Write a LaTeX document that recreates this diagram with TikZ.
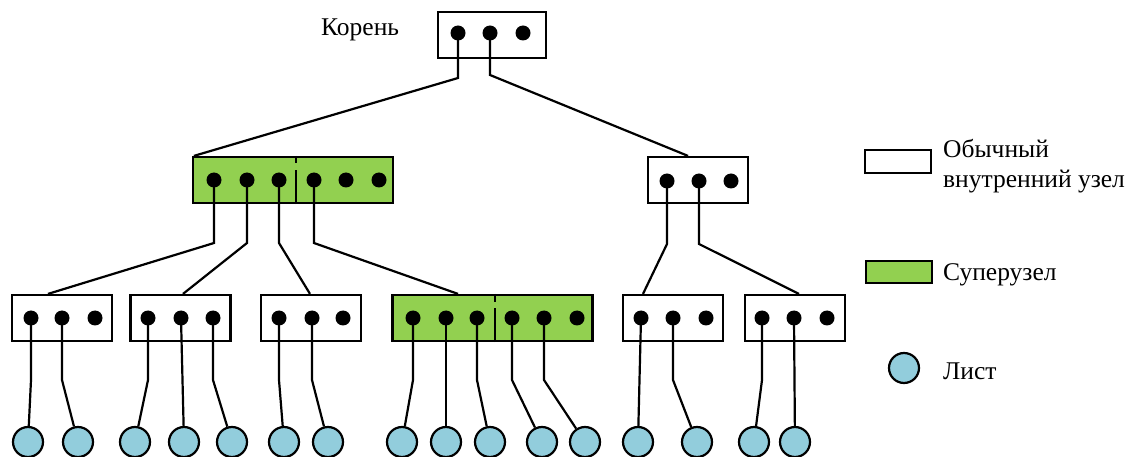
\documentclass[tikz,border=0pt]{standalone}
\usepackage{fontspec}
\setmainfont{Liberation Serif}
\definecolor{superg}{HTML}{92D050}
\definecolor{leafb}{HTML}{92CDDC}
\begin{document}
\begin{tikzpicture}[x=1pt,y=-1pt,
  box/.style={draw,line width=2.2pt,minimum height=46pt,inner sep=0pt,fill=white},
  sbox/.style={box,fill=superg,minimum width=200pt},
  nbox/.style={box,minimum width=100pt},
  dot/.style={circle,fill=black,minimum size=15pt,inner sep=0pt},
  leaf/.style={circle,draw,line width=2.2pt,fill=leafb,minimum size=30pt,inner sep=0pt},
  conn/.style={line width=2.2pt},
  lbl/.style={font=\fontsize{25.5}{30}\selectfont,inner sep=0pt,anchor=west,align=left}]
\useasboundingbox (0,0) rectangle (1128,457);
% boxes
\node[nbox,minimum width=108pt] (R) at (492,35) {};
\node[sbox] (S1) at (293,180) {};
\node[nbox] (N) at (698,180) {};
\node[nbox] (L1) at (62,318) {};
\node[nbox] (L2) at (180.5,318) {};
\node[nbox] (L3) at (311,318) {};
\node[sbox] (S2) at (492.5,318) {};
\node[nbox] (L5) at (673,318) {};
\node[nbox] (L6) at (795,318) {};
% dividers
\draw[conn] ([xshift=3pt]S1.north) -- ++(0,7);
\draw[conn] ([xshift=3pt]S1.south) -- ++(0,-34);
\draw[conn] ([xshift=2.5pt]S2.north) -- ++(0,8);
\draw[conn] ([xshift=2.5pt]S2.south) -- ++(0,-34);
% dots
\foreach \n/\x/\y in {r1/458/33,r2/490/33,r3/523/33,
  a1/214/180,a2/247/180,a3/279/180,a4/314/180,a5/346/180,a6/379/180,
  b1/667/181,b2/699/181,b3/731/181,
  c1/31/318,c2/62/318,c3/95/318,
  d1/148/318,d2/181/318,d3/213/318,
  e1/279/318,e2/312/318,e3/343/318,
  f1/413/318,f2/446/318,f3/477/318,f4/512/318,f5/544/318,f6/577/318,
  g1/641/318,g2/673/318,g3/706/318,
  h1/762/318,h2/794/318,h3/827/318}
  \node[dot] (\n) at (\x,\y) {};
% leaves
\foreach \n/\x in {p1/28,p2/78,p3/135,p4/184,p5/232,p6/284,p7/328,
  p8/402,p9/446,p10/490,p11/542,p12/585,p13/638,p14/697,p15/754,p16/795}
  \node[leaf] (\n) at (\x,442) {};
% root connectors
\draw[conn] (r1.center) -- (r1.center |- 0,78) -- ([xshift=2pt]S1.north west);
\draw[conn] (r2.center) -- (r2.center |- 0,75) -- ([xshift=-10pt]N.north);
% super node 1 connectors
\draw[conn] (a1.center) -- (a1.center |- 0,243) -- ([xshift=-14pt]L1.north);
\draw[conn] (a2.center) -- (a2.center |- 0,243) -- ([xshift=2.5pt]L2.north);
\draw[conn] (a3.center) -- (a3.center |- 0,243) -- ([xshift=-1pt]L3.north);
\draw[conn] (a4.center) -- (a4.center |- 0,243) -- ([xshift=-34.5pt]S2.north);
% right node connectors
\draw[conn] (b1.center) -- (b1.center |- 0,244) -- ([xshift=-30pt]L5.north);
\draw[conn] (b2.center) -- (b2.center |- 0,244) -- ([xshift=4pt]L6.north);
% leaf connectors
\draw[conn] (c1.center) -- (c1.center |- 0,380) -- (p1);
\draw[conn] (c2.center) -- (c2.center |- 0,380) -- (p2);
\draw[conn] (d1.center) -- (d1.center |- 0,380) -- (p3);
\draw[conn] (d2.center) -- (p4);
\draw[conn] (d3.center) -- (d3.center |- 0,380) -- (p5);
\draw[conn] (e1.center) -- (e1.center |- 0,380) -- (p6);
\draw[conn] (e2.center) -- (e2.center |- 0,380) -- (p7);
\draw[conn] (f1.center) -- (f1.center |- 0,380) -- (p8);
\draw[conn] (f2.center) -- (p9);
\draw[conn] (f3.center) -- (f3.center |- 0,380) -- (p10);
\draw[conn] (f4.center) -- (f4.center |- 0,380) -- (p11);
\draw[conn] (f5.center) -- (f5.center |- 0,380) -- (p12);
\draw[conn] (g1.center) -- (p13);
\draw[conn] (g2.center) -- (g2.center |- 0,380) -- (p14);
\draw[conn] (h1.center) -- (h1.center |- 0,380) -- (p15);
\draw[conn] (h2.center) -- (p16);
% labels
\node[lbl] (kor) at (321,30) {Корень};
% legend
\node[box,minimum width=66pt,minimum height=23pt] (lg1) at (898,161.5) {};
\node[lbl] (lt1) at (943,166) {Обычный\\внутренний узел};
\node[box,fill=superg,minimum width=66pt,minimum height=22pt] (lg2) at (899,272) {};
\node[lbl] (lt2) at (943,275) {Суперузел};
\node[leaf] (lg3) at (904,368) {};
\node[lbl] (lt3) at (943,371) {Лист};
\end{tikzpicture}
\end{document}
